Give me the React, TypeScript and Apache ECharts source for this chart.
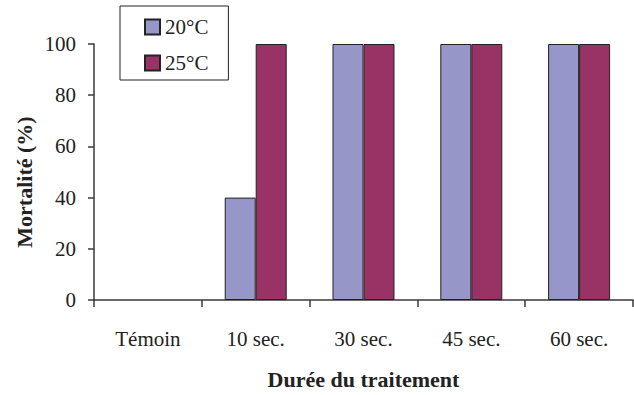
import React, { useEffect, useRef } from "react";
import * as echarts from "echarts";

const categories = ["Témoin", "10 sec.", "30 sec.", "45 sec.", "60 sec."];
const series20 = [0, 40, 100, 100, 100];
const series25 = [0, 100, 100, 100, 100];
const seriesNames = ["20°C", "25°C"];
const yTicks = { min: 0, max: 100, interval: 20 };

const FONT = "'Liberation Serif', 'Times New Roman', serif";
const AXIS = "#3a3a3a";

const toItems = (vals: number[]) =>
  vals.map((v) => (v === 0 ? { value: v, itemStyle: { borderWidth: 0, opacity: 0 } } : v));

export default function App() {
  const ref = useRef<HTMLDivElement>(null);
  useEffect(() => {
    if (!ref.current) return;
    const chart = echarts.init(ref.current, null, { renderer: "svg" });
    chart.setOption({
      animation: false,
      backgroundColor: "#ffffff",
      textStyle: { fontFamily: FONT },
      grid: { left: 94, right: 1, top: 44, bottom: 88.3, containLabel: false },
      legend: {
        orient: "vertical",
        left: 120,
        top: 6,
        padding: [9, 20, 5, 24],
        itemWidth: 15,
        itemHeight: 15,
        itemGap: 12,
        borderColor: "#222",
        borderWidth: 1,
        backgroundColor: "#fff",
        icon: "rect",
        textStyle: { fontFamily: FONT, fontSize: 21, color: "#222", lineHeight: 24 },
        data: seriesNames,
      },
      xAxis: {
        type: "category",
        data: categories,
        boundaryGap: true,
        axisLine: { show: true, lineStyle: { color: AXIS, width: 1.5 } },
        axisTick: { show: true, length: 7, lineStyle: { color: AXIS, width: 1.5 } },
        axisLabel: { fontFamily: FONT, fontSize: 21, color: "#222", margin: 28 },
        name: "Durée du traitement",
        nameLocation: "middle",
        nameGap: 68,
        nameTextStyle: { fontFamily: FONT, fontSize: 22, fontWeight: "bold", color: "#222" },
      },
      yAxis: {
        type: "value",
        min: yTicks.min,
        max: yTicks.max,
        interval: yTicks.interval,
        axisLine: { show: true, lineStyle: { color: AXIS, width: 1.5 } },
        axisTick: { show: true, length: 6, lineStyle: { color: AXIS, width: 1.5 } },
        splitLine: { show: false },
        axisLabel: { fontFamily: FONT, fontSize: 21, color: "#222", margin: 18 },
      },
      graphic: [
        {
          type: "text",
          x: 24.5,
          y: 182,
          rotation: Math.PI / 2,
          style: {
            text: "Mortalité (%)",
            fontFamily: FONT,
            fontSize: 22,
            fontWeight: "bold",
            fill: "#222",
            align: "center",
            verticalAlign: "middle",
          },
        },
      ],
      series: [
        {
          name: seriesNames[0],
          type: "bar",
          data: toItems(series20),
          barGap: "0%",
          barCategoryGap: "42.5%",
          itemStyle: { color: "#9696c9", borderColor: "#222", borderWidth: 1 },
        },
        {
          name: seriesNames[1],
          type: "bar",
          data: toItems(series25),
          barGap: "0%",
          barCategoryGap: "42.5%",
          itemStyle: { color: "#993366", borderColor: "#222", borderWidth: 1 },
        },
      ],
    });
    return () => chart.dispose();
  }, []);
  return (
    <div
      ref={ref}
      style={{ position: "fixed", left: 0, top: 0, width: 634, height: 395 }}
    />
  );
}
